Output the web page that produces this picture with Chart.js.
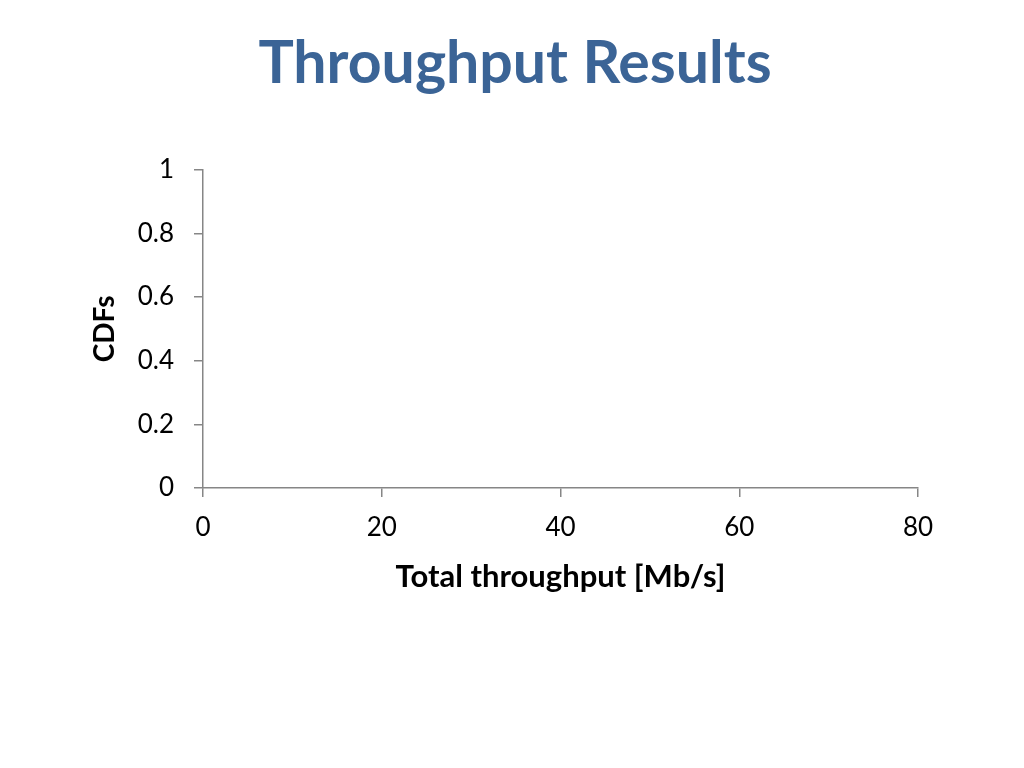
<!DOCTYPE html>
<html>
<head>
<meta charset="utf-8">
<title>Throughput Results</title>
<script src="https://cdn.jsdelivr.net/npm/chart.js@4/dist/chart.umd.min.js"></script>
<style>
    html, body {
        margin: 0;
        padding: 0;
        background: #ffffff;
    }
    #chart {
        display: block;
    }
</style>
</head>
<body>
<canvas id="chart" width="1024" height="768"></canvas>
<script>
// Axis ranges and tick labels
const xTicks = [0, 20, 40, 60, 80];
const yTicks = [0, 0.2, 0.4, 0.6, 0.8, 1];

// The slide shows an empty plot, so the series has no points
const throughputValues = [];
const cdfValues = [];

const axisColor = '#868686';
const fontFamily = 'Lato, "Open Sans", sans-serif';

const points = throughputValues.map((x, i) => ({ x: x, y: cdfValues[i] }));

new Chart(document.getElementById('chart'), {
    type: 'scatter',
    data: {
        datasets: [{
            label: 'CDF',
            data: points,
            showLine: true,
            borderColor: '#4f81bd',
            pointRadius: 0
        }]
    },
    options: {
        responsive: false,
        animation: false,
        layout: {
            // left/right kept 6px apart so the slide title sits centred on the page
            padding: { top: 29, left: 112, right: 106, bottom: 172 }
        },
        plugins: {
            legend: { display: false },
            tooltip: { enabled: false },
            title: {
                display: true,
                text: 'Throughput Results',
                color: '#3b6496',
                font: { family: fontFamily, size: 59, weight: 'bold' },
                padding: { top: 0, bottom: 70 }
            }
        },
        scales: {
            x: {
                type: 'linear',
                min: xTicks[0],
                max: xTicks[xTicks.length - 1],
                afterBuildTicks: axis => {
                    axis.ticks = xTicks.map(v => ({ value: v }));
                },
                // fixed height so the axis title lands where the slide has it
                afterFit: axis => {
                    axis.height = 108;
                },
                border: { color: axisColor, width: 1.5 },
                grid: {
                    drawOnChartArea: false,
                    drawTicks: true,
                    tickLength: 9,
                    color: axisColor,
                    lineWidth: 1.5
                },
                ticks: {
                    color: '#000000',
                    padding: 15,
                    font: { family: fontFamily, size: 26 }
                },
                title: {
                    display: true,
                    text: 'Total throughput [Mb/s]',
                    color: '#000000',
                    font: { family: fontFamily, size: 31, weight: 'bold' },
                    padding: 0
                }
            },
            y: {
                type: 'linear',
                min: yTicks[0],
                max: yTicks[yTicks.length - 1],
                afterBuildTicks: axis => {
                    axis.ticks = yTicks.map(v => ({ value: v }));
                },
                afterFit: axis => {
                    axis.width = 91;
                },
                border: { color: axisColor, width: 1.5 },
                grid: {
                    drawOnChartArea: false,
                    drawTicks: true,
                    tickLength: 9,
                    color: axisColor,
                    lineWidth: 1.5
                },
                ticks: {
                    color: '#000000',
                    padding: 20,
                    font: { family: fontFamily, size: 26 },
                    callback: v => String(v)
                },
                title: {
                    display: true,
                    text: 'CDFs',
                    color: '#000000',
                    font: { family: fontFamily, size: 28, weight: 'bold' },
                    // pull the title left of the axis box, out into the page margin
                    padding: { top: -24, bottom: 0 }
                }
            }
        }
    }
});
</script>
</body>
</html>
